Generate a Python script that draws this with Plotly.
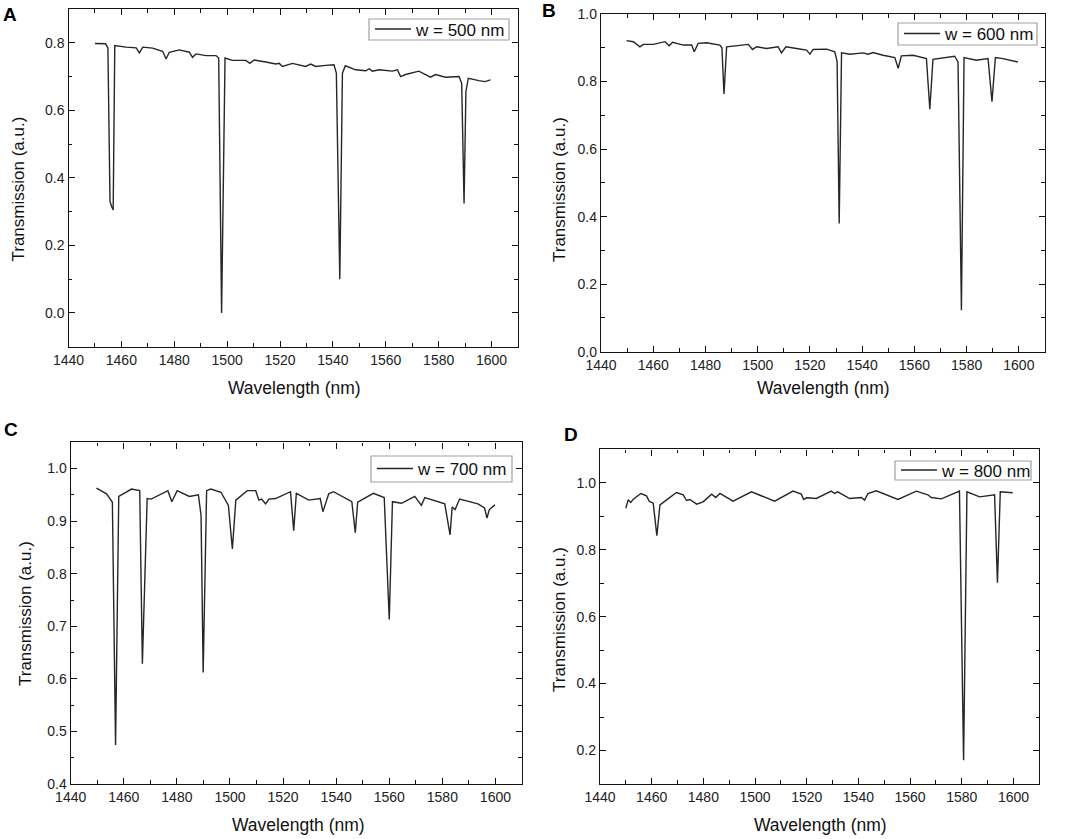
import plotly.graph_objects as go

# ---------------- data ----------------
wl_a = [1450.0, 1452.0, 1454.0, 1454.9, 1455.7, 1456.3, 1456.9, 1457.5, 1459.0, 1461.8,
        1465.6, 1466.8, 1468.1, 1471.8, 1475.6, 1476.9, 1478.1, 1481.9, 1485.7, 1486.9,
        1488.2, 1492.0, 1495.8, 1496.8, 1497.9, 1499.2, 1502.0, 1507.1, 1508.6, 1510.2,
        1514.6, 1518.4, 1519.7, 1520.9, 1524.7, 1529.7, 1531.6, 1533.5, 1537.3, 1540.4,
        1541.3, 1542.6, 1543.6, 1544.7, 1548.6, 1552.4, 1553.7, 1554.9, 1557.5, 1562.5,
        1564.4, 1565.6, 1567.5, 1572.5, 1576.9, 1578.8, 1582.6, 1587.7, 1588.7, 1589.6,
        1590.3, 1591.2, 1595.2, 1597.5, 1599.6]
t_a = [0.798, 0.798, 0.797, 0.785, 0.330, 0.315, 0.305, 0.792, 0.790, 0.787,
       0.785, 0.770, 0.787, 0.784, 0.775, 0.752, 0.772, 0.779, 0.772, 0.757,
       0.767, 0.762, 0.762, 0.755, 0.000, 0.755, 0.748, 0.748, 0.739, 0.749,
       0.743, 0.737, 0.739, 0.730, 0.739, 0.730, 0.737, 0.730, 0.733, 0.735,
       0.710, 0.100, 0.710, 0.732, 0.720, 0.717, 0.723, 0.716, 0.720, 0.716,
       0.720, 0.700, 0.706, 0.716, 0.698, 0.706, 0.698, 0.700, 0.680, 0.324,
       0.655, 0.695, 0.688, 0.685, 0.690]

wl_b = [1449.8, 1452.4, 1454.9, 1456.2, 1460.0, 1464.5, 1466.1, 1467.4, 1471.5, 1474.7,
        1475.7, 1477.2, 1480.4, 1485.5, 1486.3, 1487.1, 1488.1, 1491.9, 1496.4, 1498.0,
        1499.6, 1503.4, 1507.8, 1509.1, 1510.8, 1514.9, 1518.7, 1520.0, 1521.2, 1526.4,
        1529.5, 1530.4, 1531.2, 1532.1, 1535.3, 1540.3, 1542.3, 1544.2, 1548.0, 1552.5,
        1553.8, 1555.0, 1559.5, 1564.6, 1565.9, 1567.1, 1571.0, 1575.4, 1576.7, 1578.0,
        1579.0, 1583.7, 1588.2, 1589.7, 1591.0, 1593.9, 1599.6]
t_b = [0.921, 0.918, 0.903, 0.910, 0.910, 0.918, 0.906, 0.916, 0.908, 0.908,
       0.888, 0.913, 0.915, 0.908, 0.900, 0.763, 0.903, 0.906, 0.910, 0.895,
       0.903, 0.898, 0.903, 0.885, 0.903, 0.898, 0.893, 0.881, 0.895, 0.896,
       0.888, 0.860, 0.380, 0.885, 0.881, 0.885, 0.881, 0.886, 0.878, 0.871,
       0.839, 0.876, 0.878, 0.868, 0.718, 0.866, 0.871, 0.875, 0.858, 0.123,
       0.871, 0.863, 0.868, 0.740, 0.871, 0.868, 0.858]

wl_c = [1449.7, 1453.5, 1455.7, 1456.9, 1458.1, 1462.9, 1466.0, 1467.0, 1468.8, 1470.3,
        1476.6, 1478.1, 1480.1, 1484.7, 1488.1, 1489.1, 1489.9, 1491.2, 1492.8, 1496.6,
        1499.4, 1500.9, 1502.2, 1506.5, 1509.7, 1510.9, 1511.9, 1513.4, 1514.7, 1517.2,
        1522.8, 1524.0, 1525.0, 1529.7, 1534.0, 1535.0, 1537.2, 1539.0, 1545.9, 1547.2,
        1548.1, 1554.0, 1558.1, 1560.0, 1561.2, 1564.6, 1569.6, 1572.1, 1573.4, 1580.9,
        1582.9, 1583.7, 1584.8, 1586.5, 1593.4, 1595.9, 1596.8, 1597.7, 1599.8]
t_c = [0.963, 0.952, 0.936, 0.474, 0.947, 0.961, 0.958, 0.629, 0.943, 0.942,
       0.958, 0.937, 0.958, 0.947, 0.950, 0.911, 0.612, 0.958, 0.961, 0.955,
       0.930, 0.847, 0.940, 0.958, 0.958, 0.940, 0.942, 0.933, 0.942, 0.943,
       0.956, 0.882, 0.953, 0.940, 0.943, 0.918, 0.952, 0.956, 0.937, 0.878,
       0.936, 0.953, 0.945, 0.713, 0.937, 0.934, 0.947, 0.930, 0.945, 0.933,
       0.874, 0.927, 0.922, 0.942, 0.933, 0.925, 0.906, 0.922, 0.931]

wl_d = [1450.0, 1450.9, 1451.9, 1452.9, 1455.8, 1458.0, 1459.1, 1460.6, 1462.0, 1463.2,
        1465.8, 1469.6, 1472.2, 1473.5, 1474.8, 1477.4, 1479.9, 1483.2, 1484.8, 1486.4,
        1491.5, 1498.6, 1507.6, 1514.7, 1517.9, 1518.8, 1519.9, 1523.7, 1529.5, 1530.8,
        1532.0, 1536.6, 1541.1, 1542.4, 1543.7, 1546.9, 1555.3, 1562.4, 1566.9, 1568.2,
        1572.1, 1579.1, 1580.7, 1582.0, 1586.9, 1592.7, 1593.8, 1594.9, 1599.7]
t_d = [0.924, 0.949, 0.941, 0.951, 0.968, 0.961, 0.944, 0.939, 0.842, 0.934,
       0.949, 0.971, 0.964, 0.947, 0.950, 0.936, 0.943, 0.966, 0.956, 0.968,
       0.945, 0.973, 0.945, 0.975, 0.966, 0.950, 0.955, 0.953, 0.975, 0.968,
       0.973, 0.953, 0.956, 0.948, 0.968, 0.976, 0.950, 0.975, 0.964, 0.956,
       0.952, 0.975, 0.171, 0.973, 0.958, 0.964, 0.701, 0.973, 0.970]

series_names = ["w = 500 nm", "w = 600 nm", "w = 700 nm", "w = 800 nm"]
panel_labels = ["A", "B", "C", "D"]
x_title = "Wavelength (nm)"
y_title = "Transmission (a.u.)"

# ---------------- layout helpers (pixel boxes of each panel) ----------------
W, H = 1065, 839
FONT = "Arial, Liberation Sans, sans-serif"
LINE = "#262626"

def fx(p):
    return p / W

def fy(p):
    return 1 - p / H

# left, top, right, bottom in pixels
boxes = [(68.5, 9, 518, 346.7), (601, 14, 1045, 351.7),
         (70.7, 442.3, 522, 784), (600, 449.3, 1039.3, 784)]
y_ranges = [[-0.1, 0.9], [0.0, 1.0], [0.4, 1.05], [0.1, 1.1]]
y_dticks = [0.2, 0.2, 0.1, 0.2]
# legend frames: left, top, right, bottom (pixels)
legend_frames = [(369, 19, 509, 40), (898, 23, 1037, 45),
                 (371, 456, 512, 482), (895, 461, 1031, 480)]
label_pos = [(10, 15), (549, 11), (11, 429), (571, 434)]
ytitle_pos = [(18.5, 189), (559, 190), (25, 614), (559, 620)]
xtitle_pos = [(294, 388), (823, 388), (298, 825), (820, 825)]

data = [(wl_a, t_a), (wl_b, t_b), (wl_c, t_c), (wl_d, t_d)]

fig = go.Figure()
annotations = []
shapes = []
for i, ((wl, tr), name) in enumerate(zip(data, series_names)):
    n = "" if i == 0 else str(i + 1)
    leg = "legend" if i == 0 else f"legend{i + 1}"
    fig.add_trace(go.Scatter(x=wl, y=tr, mode="lines", name=name,
                             line=dict(color=LINE, width=1.4),
                             xaxis=f"x{n}", yaxis=f"y{n}", legend=leg,
                             showlegend=True))
    l, t, r, b = boxes[i]
    axis_common = dict(showline=True, linecolor="#111", linewidth=1.4, mirror="ticks",
                       ticks="inside", ticklen=6, tickwidth=1.3, tickcolor="#111",
                       showgrid=False, zeroline=False,
                       tickfont=dict(family=FONT, size=14, color="#222"))
    fig.layout[f"xaxis{n}"] = dict(axis_common, domain=[fx(l), fx(r)], range=[1440, 1610],
                                   tick0=1440, dtick=20, anchor=f"y{n}",
                                   minor=dict(ticks="inside", ticklen=3.5, dtick=10,
                                              tickwidth=1.1, tickcolor="#111",
                                              showgrid=False))
    fig.layout[f"yaxis{n}"] = dict(axis_common, domain=[fy(b), fy(t)], range=y_ranges[i],
                                   tick0=0, dtick=y_dticks[i], tickformat=".1f",
                                   anchor=f"x{n}",
                                   minor=dict(ticks="inside", ticklen=3.5,
                                              dtick=y_dticks[i] / 2, tickwidth=1.1,
                                              tickcolor="#111", showgrid=False))
    fl, ft, fr, fb = legend_frames[i]
    shapes.append(dict(type="rect", xref="paper", yref="paper",
                       x0=fx(fl), x1=fx(fr), y0=fy(fb), y1=fy(ft),
                       line=dict(color="#a0a0a0", width=1.2), fillcolor="white",
                       layer="above"))
    fig.layout[leg] = dict(x=fx(fl + 1), y=fy((ft + fb) / 2), xanchor="left",
                           yanchor="middle", bgcolor="rgba(0,0,0,0)", borderwidth=0,
                           itemwidth=36,
                           font=dict(family=FONT, size=17, color="#111"))
    px_, py_ = label_pos[i]
    annotations.append(dict(text=f"<b>{panel_labels[i]}</b>", x=fx(px_), y=fy(py_),
                            xref="paper", yref="paper", showarrow=False,
                            xanchor="center", yanchor="middle",
                            font=dict(family=FONT, size=19, color="#000")))
    yx, yy = ytitle_pos[i]
    annotations.append(dict(text=y_title, x=fx(yx), y=fy(yy), xref="paper", yref="paper",
                            showarrow=False, textangle=-90,
                            xanchor="center", yanchor="middle",
                            font=dict(family=FONT, size=17, color="#111")))
    xx, xy = xtitle_pos[i]
    annotations.append(dict(text=x_title, x=fx(xx), y=fy(xy), xref="paper", yref="paper",
                            showarrow=False, xanchor="center", yanchor="middle",
                            font=dict(family=FONT, size=17.5, color="#111")))

fig.update_layout(width=W, height=H,
                  margin=dict(l=0, r=0, t=0, b=0, pad=0, autoexpand=False),
                  plot_bgcolor="white", paper_bgcolor="white",
                  annotations=annotations, shapes=shapes, font=dict(family=FONT))

fig.write_html("out.html", config={"displayModeBar": False},
               post_script="document.body.style.margin='0';document.body.style.overflow='hidden';")
